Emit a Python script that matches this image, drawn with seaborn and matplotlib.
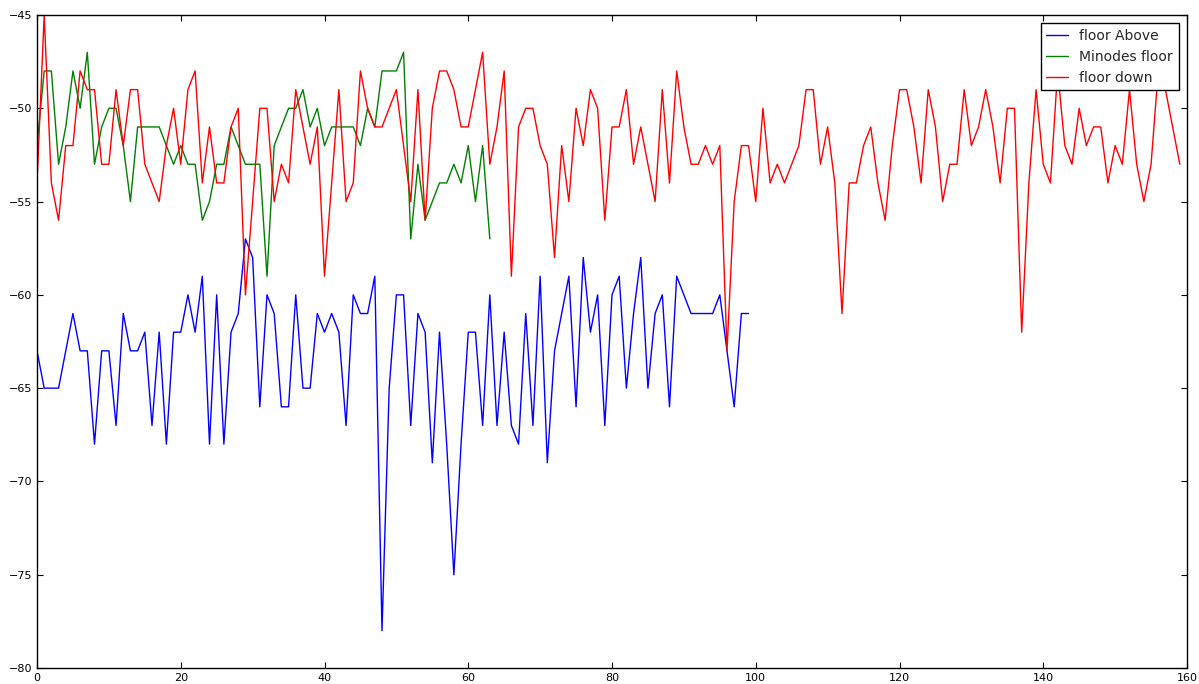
import numpy as np
import pandas as pd
import matplotlib
matplotlib.use("Agg")
import matplotlib.pyplot as plt
import seaborn as sns

# signal readings per floor (dBm)
floor_above = [-63, -65, -65, -65, -63, -61, -63, -63, -68, -63,
               -63, -67, -61, -63, -63, -62, -67, -62, -68, -62,
               -62, -60, -62, -59, -68, -60, -68, -62, -61, -57,
               -58, -66, -60, -61, -66, -66, -60, -65, -65, -61,
               -62, -61, -62, -67, -60, -61, -61, -59, -78, -65,
               -60, -60, -67, -61, -62, -69, -62, -68, -75, -68,
               -62, -62, -67, -60, -67, -62, -67, -68, -61, -67,
               -59, -69, -63, -61, -59, -66, -58, -62, -60, -67,
               -60, -59, -65, -61, -58, -65, -61, -60, -66, -59,
               -60, -61, -61, -61, -61, -60, -63, -66, -61, -61]

minodes_floor = [-52, -48, -48, -53, -51, -48, -50, -47, -53, -51,
                 -50, -50, -52, -55, -51, -51, -51, -51, -52, -53,
                 -52, -53, -53, -56, -55, -53, -53, -51, -52, -53,
                 -53, -53, -59, -52, -51, -50, -50, -49, -51, -50,
                 -52, -51, -51, -51, -51, -52, -50, -51, -48, -48,
                 -48, -47, -57, -53, -56, -55, -54, -54, -53, -54,
                 -52, -55, -52, -57]

floor_down = [-54, -45, -54, -56, -52, -52, -48, -49, -49, -53,
              -53, -49, -52, -49, -49, -53, -54, -55, -52, -50,
              -53, -49, -48, -54, -51, -54, -54, -51, -50, -60,
              -55, -50, -50, -55, -53, -54, -49, -51, -53, -51,
              -59, -54, -49, -55, -54, -48, -50, -51, -51, -50,
              -49, -52, -55, -49, -56, -50, -48, -48, -49, -51,
              -51, -49, -47, -53, -51, -48, -59, -51, -50, -50,
              -52, -53, -58, -52, -55, -50, -52, -49, -50, -56,
              -51, -51, -49, -53, -51, -53, -55, -49, -54, -48,
              -51, -53, -53, -52, -53, -52, -63, -55, -52, -52,
              -55, -50, -54, -53, -54, -53, -52, -49, -49, -53,
              -51, -54, -61, -54, -54, -52, -51, -54, -56, -52,
              -49, -49, -51, -54, -49, -51, -55, -53, -53, -49,
              -52, -51, -49, -51, -54, -50, -50, -62, -54, -49,
              -53, -54, -48, -52, -53, -50, -52, -51, -51, -54,
              -52, -53, -49, -53, -55, -53, -48, -49, -51, -53]

series = [("floor Above", floor_above, "b"),
          ("Minodes floor", minodes_floor, "g"),
          ("floor down", floor_down, "r")]

sns.set_style("white")
plt.rcParams.update({
    "font.family": ["DejaVu Sans"],
    "xtick.direction": "in",
    "ytick.direction": "in",
    "xtick.top": True,
    "ytick.right": True,
    "xtick.bottom": True,
    "ytick.left": True,
    "xtick.major.size": 4,
    "ytick.major.size": 4,
    "axes.edgecolor": "black",
    "axes.linewidth": 1.0,
})

fig = plt.figure(figsize=(11.99, 6.84), dpi=100)
ax = fig.add_axes([37 / 1199, 1 - 668 / 684, 1150 / 1199, 653 / 684])

for name, vals, col in series:
    df = pd.DataFrame({"x": np.arange(len(vals)), "y": vals})
    sns.lineplot(data=df, x="x", y="y", color=col, linewidth=1.0,
                 estimator=None, label=name, ax=ax)

ax.set_xlim(0, 160)
ax.set_ylim(-80, -45)
ax.set_xticks(range(0, 161, 20))
ax.set_yticks(range(-80, -44, 5))
ax.set_xlabel("")
ax.set_ylabel("")
ax.tick_params(labelsize=8, colors="black", width=0.8)

leg = ax.legend(loc="upper right", fancybox=False, framealpha=1,
                edgecolor="black", fontsize=10, handlelength=1.6,
                borderaxespad=0.6)
leg.get_frame().set_linewidth(1.0)

fig.savefig("out.png", dpi=100)
